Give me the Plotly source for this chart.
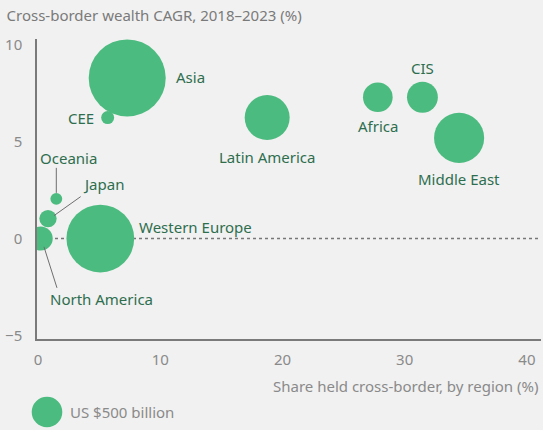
import plotly.graph_objects as go

# data
regions = ["Asia", "CEE", "Latin America", "Africa", "CIS", "Middle East",
           "Oceania", "Japan", "North America", "Western Europe"]
share = [7.3, 5.7, 18.75, 27.8, 31.45, 34.45, 1.5, 0.82, 0.22, 5.1]
cagr = [8.3, 6.25, 6.25, 7.3, 7.3, 5.2, 2.05, 1.03, 0.0, 0.0]
wealth = [3170, 90, 1080, 470, 510, 1340, 75, 160, 310, 2450]  # US$ billion
legend_value = 500

x_ticks = [0, 10, 20, 30, 40]
y_ticks = [-5, 0, 5, 10]

green = "#4CBB7F"
label_green = "#2E6E4E"
grey = "#8A8A8A"
bg = "#F1F1F1"
font = "Noto Sans"
# plotly area mode: diameter = sqrt(2 * size / sizeref), $500bn is ~30.6px wide
sizeref = 2 * legend_value / 30.6 ** 2

# label placement: (xanchor, xshift px, yshift px)
label_pos = {
    "Asia": ("left", 47, 1),
    "CEE": ("right", -12, 0),
    "Latin America": ("center", 0, -39),
    "Africa": ("center", 0, -29),
    "CIS": ("center", 0, 29),
    "Middle East": ("center", 0, -41),
    "Oceania": ("center", 12, 41),
    "Japan": ("left", 33, 35),
    "North America": ("left", 7, -60),
    "Western Europe": ("left", 37, 12),
}
# leader lines, pixel offsets from the bubble centre (x0, y0, x1, y1)
leaders = {
    "Oceania": (0, 31, 0, 6),
    "Japan": (32.7, 22, 6, 3),
    "North America": (3.3, -8.3, 16.3, -49.3),
}

fig = go.Figure()
fig.add_trace(go.Scatter(
    x=share, y=cagr, mode="markers",
    marker=dict(size=wealth, sizemode="area", sizeref=sizeref,
                color=green, opacity=1, line=dict(width=0)),
    hovertext=regions, showlegend=False,
))

annotations = []
for r, xv, yv in zip(regions, share, cagr):
    anchor, dx, dy = label_pos[r]
    annotations.append(dict(
        x=xv, y=yv, text=r, showarrow=False, xanchor=anchor, yanchor="middle",
        xshift=dx, yshift=dy, font=dict(family=font, size=15, color=label_green),
    ))

shapes = [dict(type="line", xref="paper", x0=0, x1=1, yref="y", y0=0, y1=0,
               line=dict(color="#777777", width=1.5, dash="dot"), layer="below")]
for r, (x0, y0, x1, y1) in leaders.items():
    i = regions.index(r)
    shapes.append(dict(
        type="line", xref="x", yref="y", xsizemode="pixel", ysizemode="pixel",
        xanchor=share[i], yanchor=cagr[i], x0=x0, x1=x1, y0=y0, y1=y1,
        line=dict(color="#6E6E6E", width=1), layer="above",
    ))

# size legend bubble
d = (2 * legend_value / sizeref) ** 0.5
shapes.append(dict(
    type="circle", xref="paper", yref="paper", xsizemode="pixel", ysizemode="pixel",
    xanchor=0, yanchor=0, x0=10 - d / 2, x1=10 + d / 2, y0=-73 - d / 2, y1=-73 + d / 2,
    fillcolor=green, line=dict(width=0),
))
annotations.append(dict(
    xref="paper", yref="paper", x=0, y=0, xshift=31, yshift=-73,
    xanchor="left", yanchor="middle", showarrow=False, text="US $500 billion",
    font=dict(family=font, size=15, color=grey),
))
annotations.append(dict(
    xref="paper", yref="paper", x=1, y=0, yshift=-47, xanchor="right",
    yanchor="middle", showarrow=False, text="Share held cross-border, by region (%)",
    font=dict(family=font, size=15, color=grey),
))

fig.update_layout(
    width=543, height=430,
    margin=dict(l=37, r=2, t=39, b=91, autoexpand=False),
    paper_bgcolor=bg, plot_bgcolor=bg,
    font=dict(family=font, size=15, color=grey),
    title=dict(text="Cross-border wealth CAGR, 2018–2023 (%)", xref="container",
               x=0.012, xanchor="left", yref="container", y=1 - 16 / 430,
               yanchor="middle", font=dict(family=font, size=15, color="#7A7A7A")),
    annotations=annotations, shapes=shapes,
    xaxis=dict(range=[-0.08, 41.15], tickvals=x_ticks, showgrid=False,
               zeroline=False, showline=True, linecolor="#7A7A7A", linewidth=1.5,
               ticks="", ticklabelstandoff=6, automargin=False,
               tickfont=dict(size=15, color=grey)),
    yaxis=dict(range=[-5.19, 10.31], tickvals=y_ticks, showgrid=False,
               zeroline=False, showline=True, linecolor="#7A7A7A", linewidth=1.5,
               ticks="", ticklabelstandoff=10, automargin=False,
               tickfont=dict(size=15, color=grey)),
)

# drop the browser's default 8px body margin so the figure sits at the corner
fig.write_html("out.html", config={"displayModeBar": False},
               post_script="document.body.style.margin='0';"
               "document.body.style.background='#F1F1F1';")
